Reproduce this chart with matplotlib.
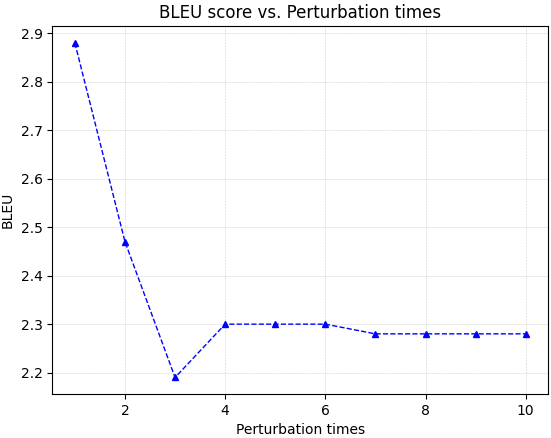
import matplotlib
matplotlib.use("Agg")
import matplotlib.pyplot as plt

times = [1, 2, 3, 4, 5, 6, 7, 8, 9, 10]
bleu = [2.88, 2.47, 2.19, 2.30, 2.30, 2.30, 2.28, 2.28, 2.28, 2.28]

fig, ax = plt.subplots(figsize=(5.51, 4.38), dpi=100)
ax.plot(times, bleu, 'b^--', linewidth=1, markersize=5)
ax.set_xlabel('Perturbation times')
ax.set_ylabel('BLEU')
ax.set_title('BLEU score vs. Perturbation times')
ax.grid(True, linestyle='--', linewidth=0.4, alpha=0.6)
fig.subplots_adjust(left=0.095, right=0.995, top=0.94, bottom=0.1)
fig.savefig('out.png')
